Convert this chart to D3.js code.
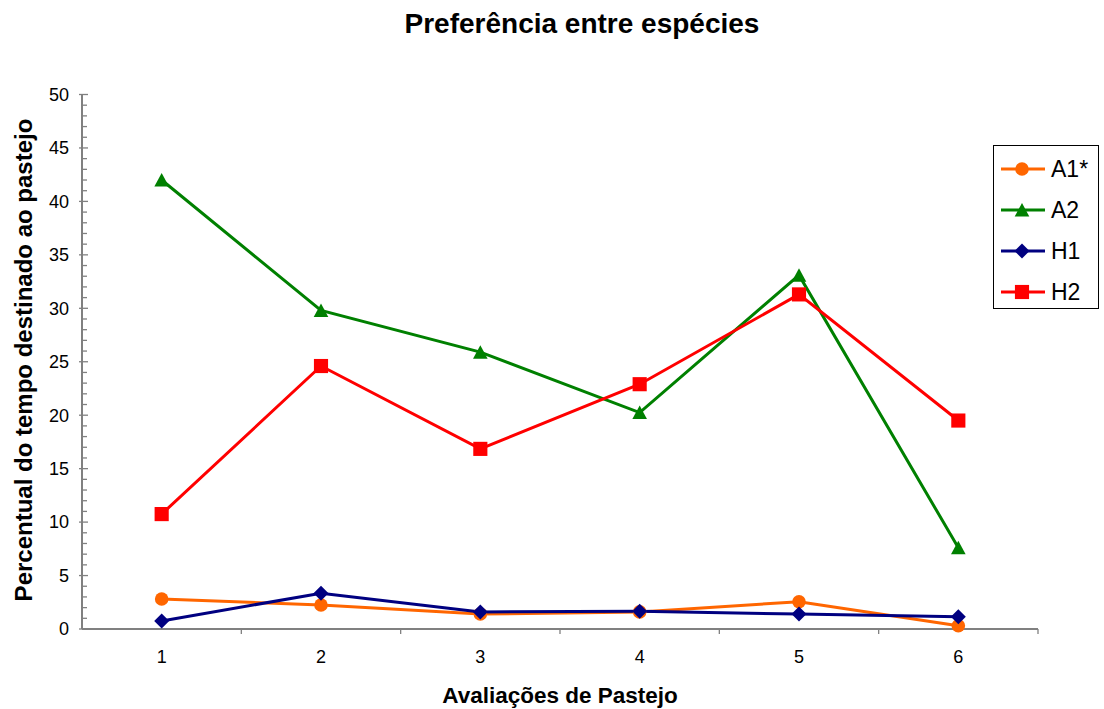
<!DOCTYPE html>
<html><head><meta charset="utf-8">
<script src="https://cdn.jsdelivr.net/npm/d3@7"></script>
<style>body{margin:0;background:#fff;} svg{display:block;font-family:"Liberation Sans",Arial,sans-serif;}</style>
</head><body>
<svg id="chart" width="1104" height="709"></svg>
<script>
const categories = ["1","2","3","4","5","6"];
const seriesNames = ["A1*","A2","H1","H2"];
const A1 = [2.8, 2.25, 1.4, 1.6, 2.55, 0.3];
const A2 = [42.0, 29.8, 25.9, 20.25, 33.1, 7.6];
const H1 = [0.75, 3.35, 1.6, 1.65, 1.4, 1.15];
const H2 = [10.75, 24.6, 16.85, 22.9, 31.3, 19.5];
const yTicks = [0,5,10,15,20,25,30,35,40,45,50];
const colors = ["#FF6600","#008000","#000080","#FF0000"];
const seriesData = [A1, A2, H1, H2];

// custom marker shapes (Excel-like)
const tri = { draw(ctx, size) { const w = 7.3, h = 7; ctx.moveTo(0, -h); ctx.lineTo(w, h - 0.5); ctx.lineTo(-w, h - 0.5); ctx.closePath(); } };
const dia = { draw(ctx, size) { const r = 7.5; ctx.moveTo(0, -r); ctx.lineTo(r, 0); ctx.lineTo(0, r); ctx.lineTo(-r, 0); ctx.closePath(); } };
const shapes = [d3.symbolCircle, tri, dia, d3.symbolSquare];
const symSizes = [145, 0, 0, 200];

const svg = d3.select("#chart");
const L = 82, R = 1038, T = 94.5, B = 629;
const x = d3.scaleBand().domain(categories).range([L, R]);
const y = d3.scaleLinear().domain([0, 50]).range([B, T]);
const axisColor = "#808080";

// titles
svg.append("text").attr("x", 582).attr("y", 33).attr("text-anchor","middle")
  .attr("font-size", 28).attr("font-weight","bold").text("Preferência entre espécies");
svg.append("text").attr("x", 560).attr("y", 703).attr("text-anchor","middle")
  .attr("font-size", 22.5).attr("font-weight","bold").text("Avaliações de Pastejo");
svg.append("text").attr("transform", `translate(32,360) rotate(-90)`).attr("text-anchor","middle")
  .attr("font-size", 24).attr("font-weight","bold").text("Percentual do tempo destinado ao pastejo");

// y axis
const gy = svg.append("g");
gy.append("line").attr("x1", L).attr("x2", L).attr("y1", T).attr("y2", B).attr("stroke", axisColor).attr("stroke-width", 2);
d3.range(0, 51, 1).forEach(v => {
  const major = v % 5 === 0;
  gy.append("line").attr("x1", major ? L - 3 : L).attr("x2", major ? L + 6 : L + 5)
    .attr("y1", y(v)).attr("y2", y(v)).attr("stroke", axisColor).attr("stroke-width", 1.3);
});
yTicks.forEach(v => {
  gy.append("text").attr("x", L - 13).attr("y", y(v)).attr("dy", "0.35em").attr("text-anchor","end")
    .attr("font-size", 18).text(v);
});

// x axis
const gx = svg.append("g");
gx.append("line").attr("x1", L).attr("x2", R).attr("y1", B).attr("y2", B).attr("stroke", axisColor).attr("stroke-width", 2);
categories.forEach((c, i) => {
  const bx = x(c) + x.bandwidth();
  gx.append("line").attr("x1", bx).attr("x2", bx).attr("y1", B).attr("y2", B + 5).attr("stroke", axisColor).attr("stroke-width", 1.3);
  gx.append("text").attr("x", x(c) + x.bandwidth()/2).attr("y", B + 34).attr("text-anchor","middle")
    .attr("font-size", 18).text(c);
});

// series
const cx = i => x(categories[i]) + x.bandwidth()/2;
const line = d3.line().x((d, i) => cx(i)).y(d => y(d));
seriesData.forEach((vals, s) => {
  svg.append("path").attr("d", line(vals)).attr("fill","none").attr("stroke", colors[s]).attr("stroke-width", 3);
});
seriesData.forEach((vals, s) => {
  svg.selectAll(null).data(vals).enter().append("path")
    .attr("d", d3.symbol().type(shapes[s]).size(symSizes[s]))
    .attr("transform", (d, i) => `translate(${cx(i)},${y(d)})`)
    .attr("fill", colors[s]);
});

// legend
const lg = svg.append("g");
lg.append("rect").attr("x", 993.5).attr("y", 145.5).attr("width", 105).attr("height", 163)
  .attr("fill","#fff").attr("stroke","#000").attr("stroke-width",1);
const rowY = [169, 210, 251, 292];
seriesNames.forEach((n, s) => {
  lg.append("line").attr("x1", 1001).attr("x2", 1045).attr("y1", rowY[s]).attr("y2", rowY[s])
    .attr("stroke", colors[s]).attr("stroke-width", 3);
  lg.append("path").attr("d", d3.symbol().type(shapes[s]).size(symSizes[s]))
    .attr("transform", `translate(1022,${rowY[s]})`).attr("fill", colors[s]);
  lg.append("text").attr("x", 1051).attr("y", rowY[s]).attr("dy","0.36em").attr("font-size", 23).text(n);
});
</script>
</body></html>
